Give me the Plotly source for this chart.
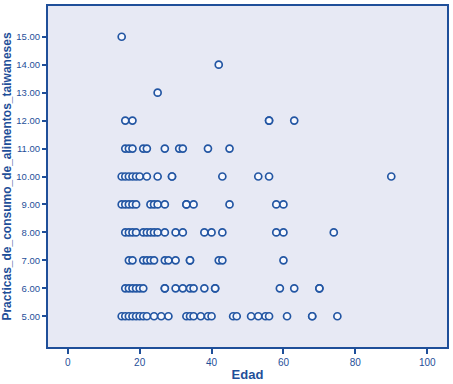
import plotly.graph_objects as go

# Ages (Edad) observed at each score level of Practicas_de_consumo_de_alimentos_taiwaneses
levels = [15, 14, 13, 12, 11, 10, 9, 8, 7, 6, 5]
edad_15 = [15]
edad_14 = [42]
edad_13 = [25]
edad_12 = [16, 18, 56, 56, 63]
edad_11 = [16, 17, 18, 21, 22, 27, 31, 32, 39, 45]
edad_10 = [15, 16, 17, 18, 19, 20, 22, 25, 29, 29, 43, 53, 56, 90]
edad_9 = [15, 16, 17, 18, 19, 23, 24, 25, 27, 33, 33, 35, 45, 58, 60]
edad_8 = [16, 17, 18, 19, 21, 22, 23, 24, 25, 27, 30, 32, 38, 40, 43, 58, 60, 74]
edad_7 = [17, 18, 21, 22, 23, 24, 27, 28, 30, 34, 34, 42, 43, 60]
edad_6 = [16, 17, 18, 19, 20, 21, 27, 27, 30, 32, 34, 35, 38, 41, 41, 59, 63, 70, 70]
edad_5 = [15, 16, 17, 18, 19, 20, 21, 22, 24, 26, 28, 33, 34, 35, 37, 39, 40,
          46, 47, 51, 53, 55, 56, 61, 68, 68, 75]

groups = [edad_15, edad_14, edad_13, edad_12, edad_11, edad_10,
          edad_9, edad_8, edad_7, edad_6, edad_5]

edad = []
practicas = []
for lvl, ages in zip(levels, groups):
    edad.extend(ages)
    practicas.extend([lvl] * len(ages))

x_ticks = [0, 20, 40, 60, 80, 100]
y_ticks = [5, 6, 7, 8, 9, 10, 11, 12, 13, 14, 15]
y_tick_labels = ["5.00", "6.00", "7.00", "8.00", "9.00", "10.00",
                 "11.00", "12.00", "13.00", "14.00", "15.00"]

blue = "#1F4F99"

fig = go.Figure(go.Scatter(
    x=edad, y=practicas, mode="markers",
    marker=dict(symbol="circle", size=7, color="rgba(248,250,255,0.9)",
                line=dict(color="#2356A3", width=1.7)),
    hoverinfo="x+y",
))

fig.update_layout(
    width=453, height=384,
    margin=dict(l=46, r=5, t=4, b=36),
    paper_bgcolor="white",
    plot_bgcolor="#E7E9F4",
    showlegend=False,
    font=dict(family="Liberation Sans, Arial, sans-serif", color=blue),
)

fig.update_xaxes(
    range=[-5.5, 105.5], tickvals=x_ticks, ticks="outside", ticklen=5,
    tickwidth=1.5, tickcolor=blue, showgrid=False, zeroline=False,
    showline=True, linecolor=blue, linewidth=2, mirror=True,
    tickfont=dict(size=10, color=blue),
    title=dict(text="<b>Edad</b>", font=dict(size=13, color=blue), standoff=3),
)
fig.update_yaxes(
    range=[3.9, 16.1], tickvals=y_ticks, ticktext=y_tick_labels,
    ticks="outside", ticklen=4, tickwidth=1.5, tickcolor=blue,
    showgrid=False, zeroline=False,
    showline=True, linecolor=blue, linewidth=2, mirror=True,
    tickfont=dict(size=9.5, color=blue),
    title=dict(text="<b>Practicas_de_consumo_de_alimentos_taiwaneses</b>",
               font=dict(size=12, color=blue), standoff=4),
)

fig.write_html("out.html",
               config={"displayModeBar": False},
               post_script="document.body.style.margin='0';document.body.style.overflow='hidden';")
